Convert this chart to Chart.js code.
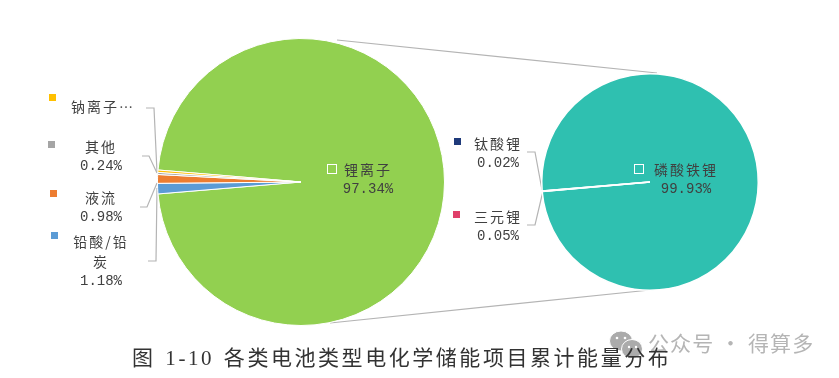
<!DOCTYPE html>
<html>
<head>
<meta charset="utf-8">
<script src="https://cdn.jsdelivr.net/npm/chart.js@4/dist/chart.umd.min.js"></script>
<style>
  html, body { margin: 0; padding: 0; background: #fff; }
  #stage { position: relative; width: 839px; height: 378px; overflow: hidden; font-family: "Noto Sans CJK SC", sans-serif; color: #404040; filter: blur(0.35px); }
  #stage canvas { position: absolute; }
  #lines { position: absolute; left: 0; top: 0; }
  .lbl { position: absolute; font-size: 14px; line-height: 20px; text-align: center; letter-spacing: 2px; transform: translateX(-50%); white-space: pre; }
  .lbl b { display: block; font-weight: 400; font-family: "Liberation Mono", monospace; font-size: 14px; letter-spacing: 0; }
  .mark { position: absolute; width: 7px; height: 7px; }
  .hollow { position: absolute; width: 8px; height: 8px; border: 1.5px solid #fff; }
  #caption { position: absolute; left: 132px; top: 344px; font-family: "Liberation Serif", "Noto Sans CJK SC", serif; font-size: 21px; line-height: 28px; letter-spacing: 2.55px; word-spacing: 2px; color: #333; white-space: pre; }
  #wm { position: absolute; left: 648px; top: 328px; font-size: 21px; line-height: 28px; letter-spacing: 1.1px; color: #b5b5b5; white-space: pre; }
</style>
</head>
<body>
<div id="stage">
  <div id="wm">公众号 · 得算多</div>
  <svg id="lines" width="839" height="378">
    <g fill="#ababab" stroke="#fff" stroke-width="1">
      <ellipse cx="621" cy="341" rx="11.5" ry="10"/>
      <ellipse cx="632" cy="349" rx="10.5" ry="9.5"/>
    </g>
    <g fill="#fff">
      <circle cx="617" cy="338" r="1.3"/>
      <circle cx="625" cy="338" r="1.3"/>
      <circle cx="629" cy="347" r="1.2"/>
      <circle cx="636" cy="347" r="1.2"/>
    </g>
    <g fill="none" stroke="#b4b4b4" stroke-width="1.2">
      <path d="M337 40 L657 73"/>
      <path d="M330 323 L650 290"/>
      <path d="M146 108 H154 L157 172"/>
      <path d="M142 156 H149 L157 173"/>
      <path d="M140 207 H147 L157 183"/>
      <path d="M148 261 H156 L157 188"/>
      <path d="M527 152 H535 L542 190"/>
      <path d="M527 225 H535 L543 191"/>
    </g>
  </svg>
  <canvas id="mainPie" width="292" height="292" style="left:155px;top:36px"></canvas>
  <canvas id="subPie" width="222" height="222" style="left:539px;top:71px"></canvas>
  <div id="labels"></div>
  <div id="caption">图 1-10 各类电池类型电化学储能项目累计能量分布</div>
</div>
<script>
const mainNames = ['锂离子', '铅酸/铅\n炭', '液流', '其他', '钠离子…'];
const mainValues = [97.34, 1.18, 0.98, 0.24, 0.26];
const mainColors = ['#92d050', '#5b9bd5', '#ed7d31', '#a5a5a5', '#ffc000'];

const subNames = ['磷酸铁锂', '三元锂', '钛酸锂'];
const subValues = [99.93, 0.05, 0.02];
const subColors = ['#2fc0b0', '#e0406a', '#1f3a7a'];

// label anchors, same order as the names above
const mainAnchors = [[368, 159], [101, 231], [101, 187], [101, 136], [103, 96]];
const mainMarks = [[327, 164], [51, 232], [50, 190], [48, 141], [49, 94]];
const subAnchors = [[686, 159], [498, 206], [498, 133]];
const subMarks = [[634, 164], [453, 211], [454, 138]];

function pie(id, values, colors, rotation, border) {
  new Chart(document.getElementById(id), {
    type: 'pie',
    data: {
      labels: id === 'mainPie' ? mainNames : subNames,
      datasets: [{ data: values, backgroundColor: colors, borderColor: '#fff', borderWidth: border }],
    },
    options: {
      responsive: false,
      animation: false,
      rotation,
      layout: { padding: 2 },
      plugins: { legend: { display: false }, tooltip: { enabled: false } },
    },
  });
}

// the small slices face left, tilted a bit downward on the second pie
pie('mainPie', mainValues, mainColors, 274.8, 1);
pie('subPie', subValues, subColors, 265.2, 1.5);

function addLabels(names, values, colors, anchors, marks) {
  const box = document.getElementById('labels');
  names.forEach((name, i) => {
    const d = document.createElement('div');
    d.className = 'lbl';
    d.style.left = anchors[i][0] + 'px';
    d.style.top = anchors[i][1] + 'px';
    d.textContent = name;
    if (!name.endsWith('…')) {
      const v = document.createElement('b');
      v.textContent = values[i].toFixed(2) + '%';
      d.appendChild(v);
    }
    box.appendChild(d);
    const m = document.createElement('div');
    m.className = i === 0 ? 'hollow' : 'mark';
    m.style.left = marks[i][0] + 'px';
    m.style.top = marks[i][1] + 'px';
    if (i > 0) m.style.background = colors[i];
    box.appendChild(m);
  });
}
addLabels(mainNames, mainValues, mainColors, mainAnchors, mainMarks);
addLabels(subNames, subValues, subColors, subAnchors, subMarks);
</script>
</body>
</html>
